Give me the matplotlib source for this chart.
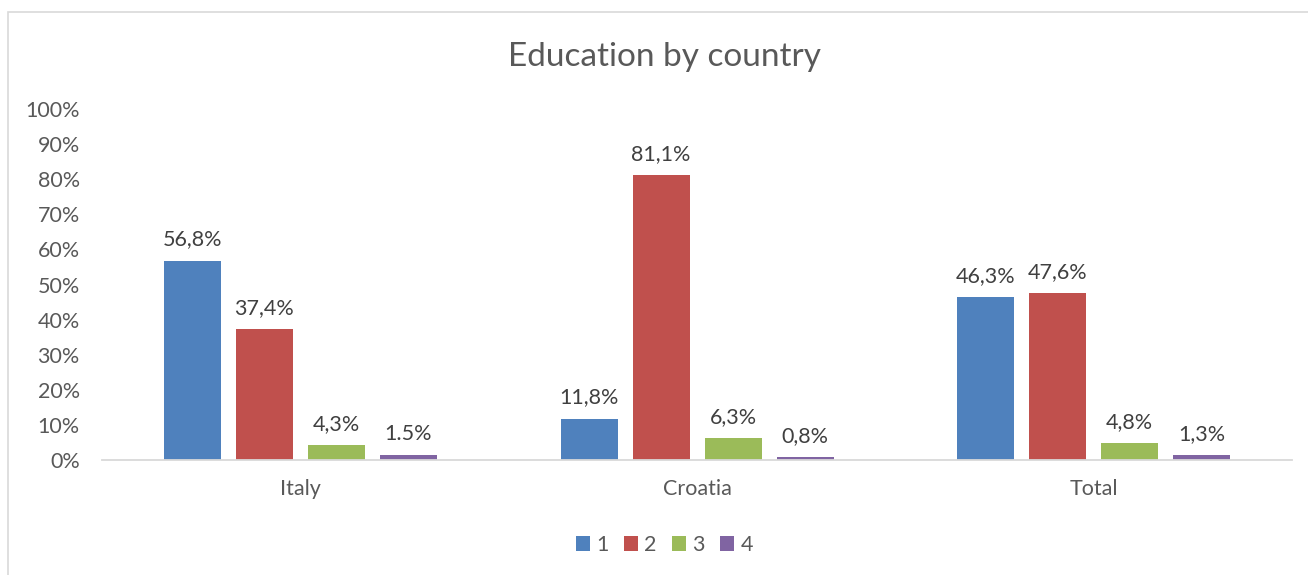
import matplotlib.pyplot as plt
import numpy as np
from matplotlib.patches import Rectangle
from matplotlib.ticker import PercentFormatter

plt.rcParams['font.family'] = ['Lato', 'DejaVu Sans']

countries = ["Italy", "Croatia", "Total"]
series = ["1", "2", "3", "4"]
values = [
    [56.8, 11.8, 46.3],
    [37.4, 81.1, 47.6],
    [4.3, 6.3, 4.8],
    [1.5, 0.8, 1.3],
]
labels = [
    ["56,8%", "11,8%", "46,3%"],
    ["37,4%", "81,1%", "47,6%"],
    ["4,3%", "6,3%", "4,8%"],
    ["1.5%", "0,8%", "1,3%"],
]
colors = ["#4F81BD", "#C0504D", "#9BBB59", "#8064A2"]
text_color = "#595959"
fs = 15.5

fig = plt.figure(figsize=(13.08, 5.75), dpi=100)
ax = fig.add_axes([0.078, 0.2, 0.9098, 0.6104])

# light frame around the whole chart area
fig.patches.append(Rectangle((8 / 1308, -0.1), 1.2, 1 - 12 / 575 + 0.1,
                             transform=fig.transFigure, fill=False,
                             edgecolor="#D9D9D9", linewidth=1.2))

x = np.arange(len(countries))
width = 0.1437
step = width + 0.0378
offsets = (np.arange(len(series)) - 1.5) * step

for i, name in enumerate(series):
    bars = ax.bar(x + offsets[i], values[i], width, color=colors[i],
                  label=name, zorder=2)
    for b, txt in zip(bars, labels[i]):
        ax.annotate(txt, (b.get_x() + b.get_width() / 2, b.get_height()),
                    xytext=(0, 8), textcoords="offset points",
                    ha="center", va="bottom", fontsize=fs, color="#404040")

ax.set_xlim(-0.5, len(countries) - 0.5)
ax.set_ylim(0, 100)
ax.set_yticks(np.arange(0, 101, 10))
ax.yaxis.set_major_formatter(PercentFormatter(decimals=0))
ax.set_xticks(x)
ax.set_xticklabels(countries)
ax.tick_params(axis="both", length=0, labelsize=fs, colors=text_color)
ax.tick_params(axis="x", pad=14)
ax.tick_params(axis="y", pad=16)
for side in ["top", "right", "left"]:
    ax.spines[side].set_visible(False)
ax.spines["bottom"].set_color("#D9D9D9")
ax.spines["bottom"].set_linewidth(1.3)

fig.text(0.5077, 1 - 57 / 575, "Education by country", ha="center",
         va="center", fontsize=24, color=text_color)

fig.legend(loc="center", bbox_to_anchor=(0.508, 1 - 545 / 575), ncol=4,
           frameon=False, fontsize=fs, handlelength=0.65, handleheight=0.65,
           handletextpad=0.3, columnspacing=0.7, labelcolor=text_color)

fig.savefig("out.png", dpi=100)
